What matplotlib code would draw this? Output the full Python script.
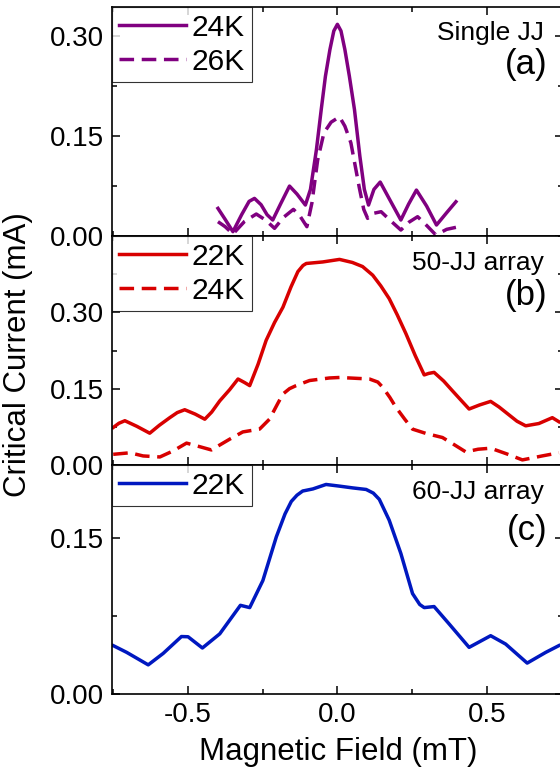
import matplotlib
matplotlib.use("Agg")
import matplotlib.pyplot as plt
from matplotlib.ticker import MultipleLocator, FormatStrFormatter

plt.rcParams['font.family'] = ['Liberation Sans', 'DejaVu Sans']
plt.rcParams['axes.unicode_minus'] = False

# ---- data ----
# Panel (a): Single JJ
a24_x = [-0.399, -0.375, -0.349, -0.32, -0.295, -0.277, -0.255, -0.235, -0.216, -0.19, -0.16, -0.135,
         -0.107, -0.09, -0.07, -0.054, -0.04, -0.025, -0.012, 0.0, 0.012, 0.025, 0.04, 0.057, 0.075,
         0.09, 0.104, 0.122, 0.143, 0.178, 0.212, 0.238, 0.264, 0.298, 0.331, 0.365, 0.396]
a24_y = [0.0415, 0.025, 0.0065, 0.032, 0.052, 0.0565, 0.047, 0.032, 0.024, 0.048, 0.075, 0.063,
         0.0465, 0.07, 0.13, 0.19, 0.24, 0.28, 0.308, 0.318, 0.308, 0.28, 0.24, 0.19, 0.12,
         0.07, 0.0465, 0.07, 0.081, 0.052, 0.024, 0.048, 0.069, 0.045, 0.0165, 0.035, 0.0515]
a26_x = [-0.399, -0.375, -0.349, -0.31, -0.271, -0.24, -0.21, -0.18, -0.147, -0.125, -0.102,
         -0.085, -0.066, -0.045, -0.021, 0.007, 0.025, 0.045, 0.073, 0.088, 0.101, 0.12, 0.146,
         0.18, 0.212, 0.24, 0.268, 0.3, 0.329, 0.365, 0.396]
a26_y = [0.0215, 0.014, 0.003, 0.022, 0.033, 0.024, 0.0115, 0.028, 0.04, 0.03, 0.014,
         0.05, 0.114, 0.155, 0.171, 0.179, 0.165, 0.14, 0.073, 0.04, 0.0265, 0.034, 0.0365,
         0.022, 0.009, 0.021, 0.029, 0.015, 0.0015, 0.01, 0.013]

# Panel (b): 50-JJ array
b22_x = [-0.749, -0.73, -0.71, -0.67, -0.627, -0.595, -0.56, -0.535, -0.51, -0.475, -0.443, -0.42,
         -0.393, -0.36, -0.332, -0.31, -0.293, -0.265, -0.238, -0.21, -0.182, -0.155, -0.132,
         -0.115, -0.104, -0.049, 0.007, 0.05, 0.084, 0.118, 0.145, 0.173, 0.2, 0.229, 0.26,
         0.29, 0.305, 0.323, 0.355, 0.384, 0.415, 0.44, 0.475, 0.512, 0.54, 0.57, 0.6, 0.629,
         0.673, 0.718, 0.74]
b22_y = [0.0737, 0.082, 0.087, 0.076, 0.0625, 0.078, 0.093, 0.103, 0.1086, 0.1, 0.09, 0.104,
         0.126, 0.148, 0.169, 0.162, 0.156, 0.198, 0.245, 0.28, 0.31, 0.35, 0.38,
         0.392, 0.396, 0.399, 0.404, 0.398, 0.39, 0.373, 0.352, 0.327, 0.295, 0.258, 0.215,
         0.177, 0.18, 0.182, 0.165, 0.146, 0.126, 0.11, 0.118, 0.125, 0.114, 0.1, 0.086, 0.077,
         0.0815, 0.093, 0.085]
b24_x = [-0.749, -0.693, -0.649, -0.593, -0.549, -0.504, -0.46, -0.421, -0.36, -0.316, -0.26,
         -0.227, -0.2, -0.182, -0.16, -0.138, -0.093, -0.027, 0.007, 0.107, 0.135, 0.151, 0.175,
         0.196, 0.225, 0.251, 0.296, 0.351, 0.39, 0.429, 0.47, 0.512, 0.565, 0.618, 0.684, 0.74]
b24_y = [0.021, 0.024, 0.0178, 0.0158, 0.0276, 0.043, 0.036, 0.0296, 0.0507, 0.065, 0.0705,
         0.09, 0.12, 0.1395, 0.15, 0.156, 0.166, 0.171, 0.172, 0.169, 0.163, 0.153, 0.133,
         0.113, 0.09, 0.0705, 0.062, 0.054, 0.04, 0.0257, 0.031, 0.033, 0.022, 0.01, 0.0178,
         0.024]

# Panel (c): 60-JJ array
c22_x = [-0.749, -0.704, -0.632, -0.582, -0.521, -0.499, -0.451, -0.393, -0.324, -0.293, -0.249,
         -0.204, -0.175, -0.154, -0.135, -0.116, -0.082, -0.038, 0.007, 0.051, 0.096, 0.12, 0.14,
         0.173, 0.212, 0.251, 0.275, 0.29, 0.323, 0.373, 0.44, 0.512, 0.562, 0.634, 0.696, 0.74]
c22_y = [0.0465, 0.04, 0.028, 0.039, 0.0552, 0.055, 0.0442, 0.0578, 0.0852, 0.083, 0.109,
         0.151, 0.173, 0.185, 0.191, 0.195, 0.197, 0.2013, 0.1997, 0.198, 0.1965, 0.193, 0.187,
         0.167, 0.135, 0.0965, 0.086, 0.083, 0.084, 0.0674, 0.0448, 0.056, 0.048, 0.0297,
         0.04, 0.0465]

xticks = [-0.5, 0.0, 0.5]
xticklabels = ['-0.5', '0.0', '0.5']
ylims = [0.344, 0.45, 0.22]
yticks = [[0.0, 0.15, 0.30], [0.0, 0.15, 0.30], [0.0, 0.15]]
names = ['Single JJ', '50-JJ array', '60-JJ array']
letters = ['(a)', '(b)', '(c)']

purple = '#800080'
red = '#d80000'
blue = '#0018c0'

fig = plt.figure(figsize=(5.6, 7.76), dpi=100)
left, width, h = 0.2, 0.805, 229 / 776
bottoms = [1 - 236 / 776, 1 - 465 / 776, 1 - 694 / 776]
axes = [fig.add_axes([left, b, width, h]) for b in bottoms]

lw = 2.5
dash = (0, (4.2, 2.2))
axes[0].plot(a24_x, a24_y, color=purple, lw=lw, label='24K')
axes[0].plot(a26_x, a26_y, color=purple, lw=lw, ls=dash, label='26K')
axes[1].plot(b22_x, b22_y, color=red, lw=lw, label='22K')
axes[1].plot(b24_x, b24_y, color=red, lw=lw, ls=dash, label='24K')
axes[2].plot(c22_x, c22_y, color=blue, lw=lw, label='22K')

ypos = [(0.886, 0.747), (0.882, 0.742), (0.883, 0.716)]
for i, ax in enumerate(axes):
    ax.set_xlim(-0.753, 0.753)
    ax.set_ylim(0, ylims[i])
    ax.set_xticks(xticks)
    ax.xaxis.set_minor_locator(MultipleLocator(0.25))
    ax.set_yticks(yticks[i])
    ax.yaxis.set_minor_locator(MultipleLocator(0.075))
    ax.yaxis.set_major_formatter(FormatStrFormatter('%.2f'))
    ax.tick_params(which='both', direction='in', top=True, right=True, width=1.1,
                   labelsize=20, pad=6)
    ax.tick_params(which='major', length=6)
    ax.tick_params(which='minor', length=3.5)
    for s in ax.spines.values():
        s.set_linewidth(1.2)
    if i < 2:
        ax.tick_params(labelbottom=False)
    else:
        ax.set_xticklabels(xticklabels)
    leg = ax.legend(loc='upper left', fontsize=21.5, frameon=True, fancybox=False,
                    borderaxespad=0, handlelength=2.25, handletextpad=0.2,
                    labelspacing=0.2, borderpad=0.22)
    leg.get_frame().set_edgecolor('black')
    leg.get_frame().set_linewidth(0.8)
    ax.text(0.957, ypos[i][0], names[i], transform=ax.transAxes, ha='right',
            va='center', fontsize=19)
    ax.text(0.965, ypos[i][1], letters[i], transform=ax.transAxes, ha='right',
            va='center', fontsize=25)

fig.text(0.032, 1 - 355 / 776, 'Critical Current (mA)', rotation=90, ha='center',
         va='center', fontsize=22.5)
fig.text(338 / 560, 1 - 752 / 776, 'Magnetic Field (mT)', ha='center', va='center',
         fontsize=22.5)

fig.savefig('out.png', dpi=100)
